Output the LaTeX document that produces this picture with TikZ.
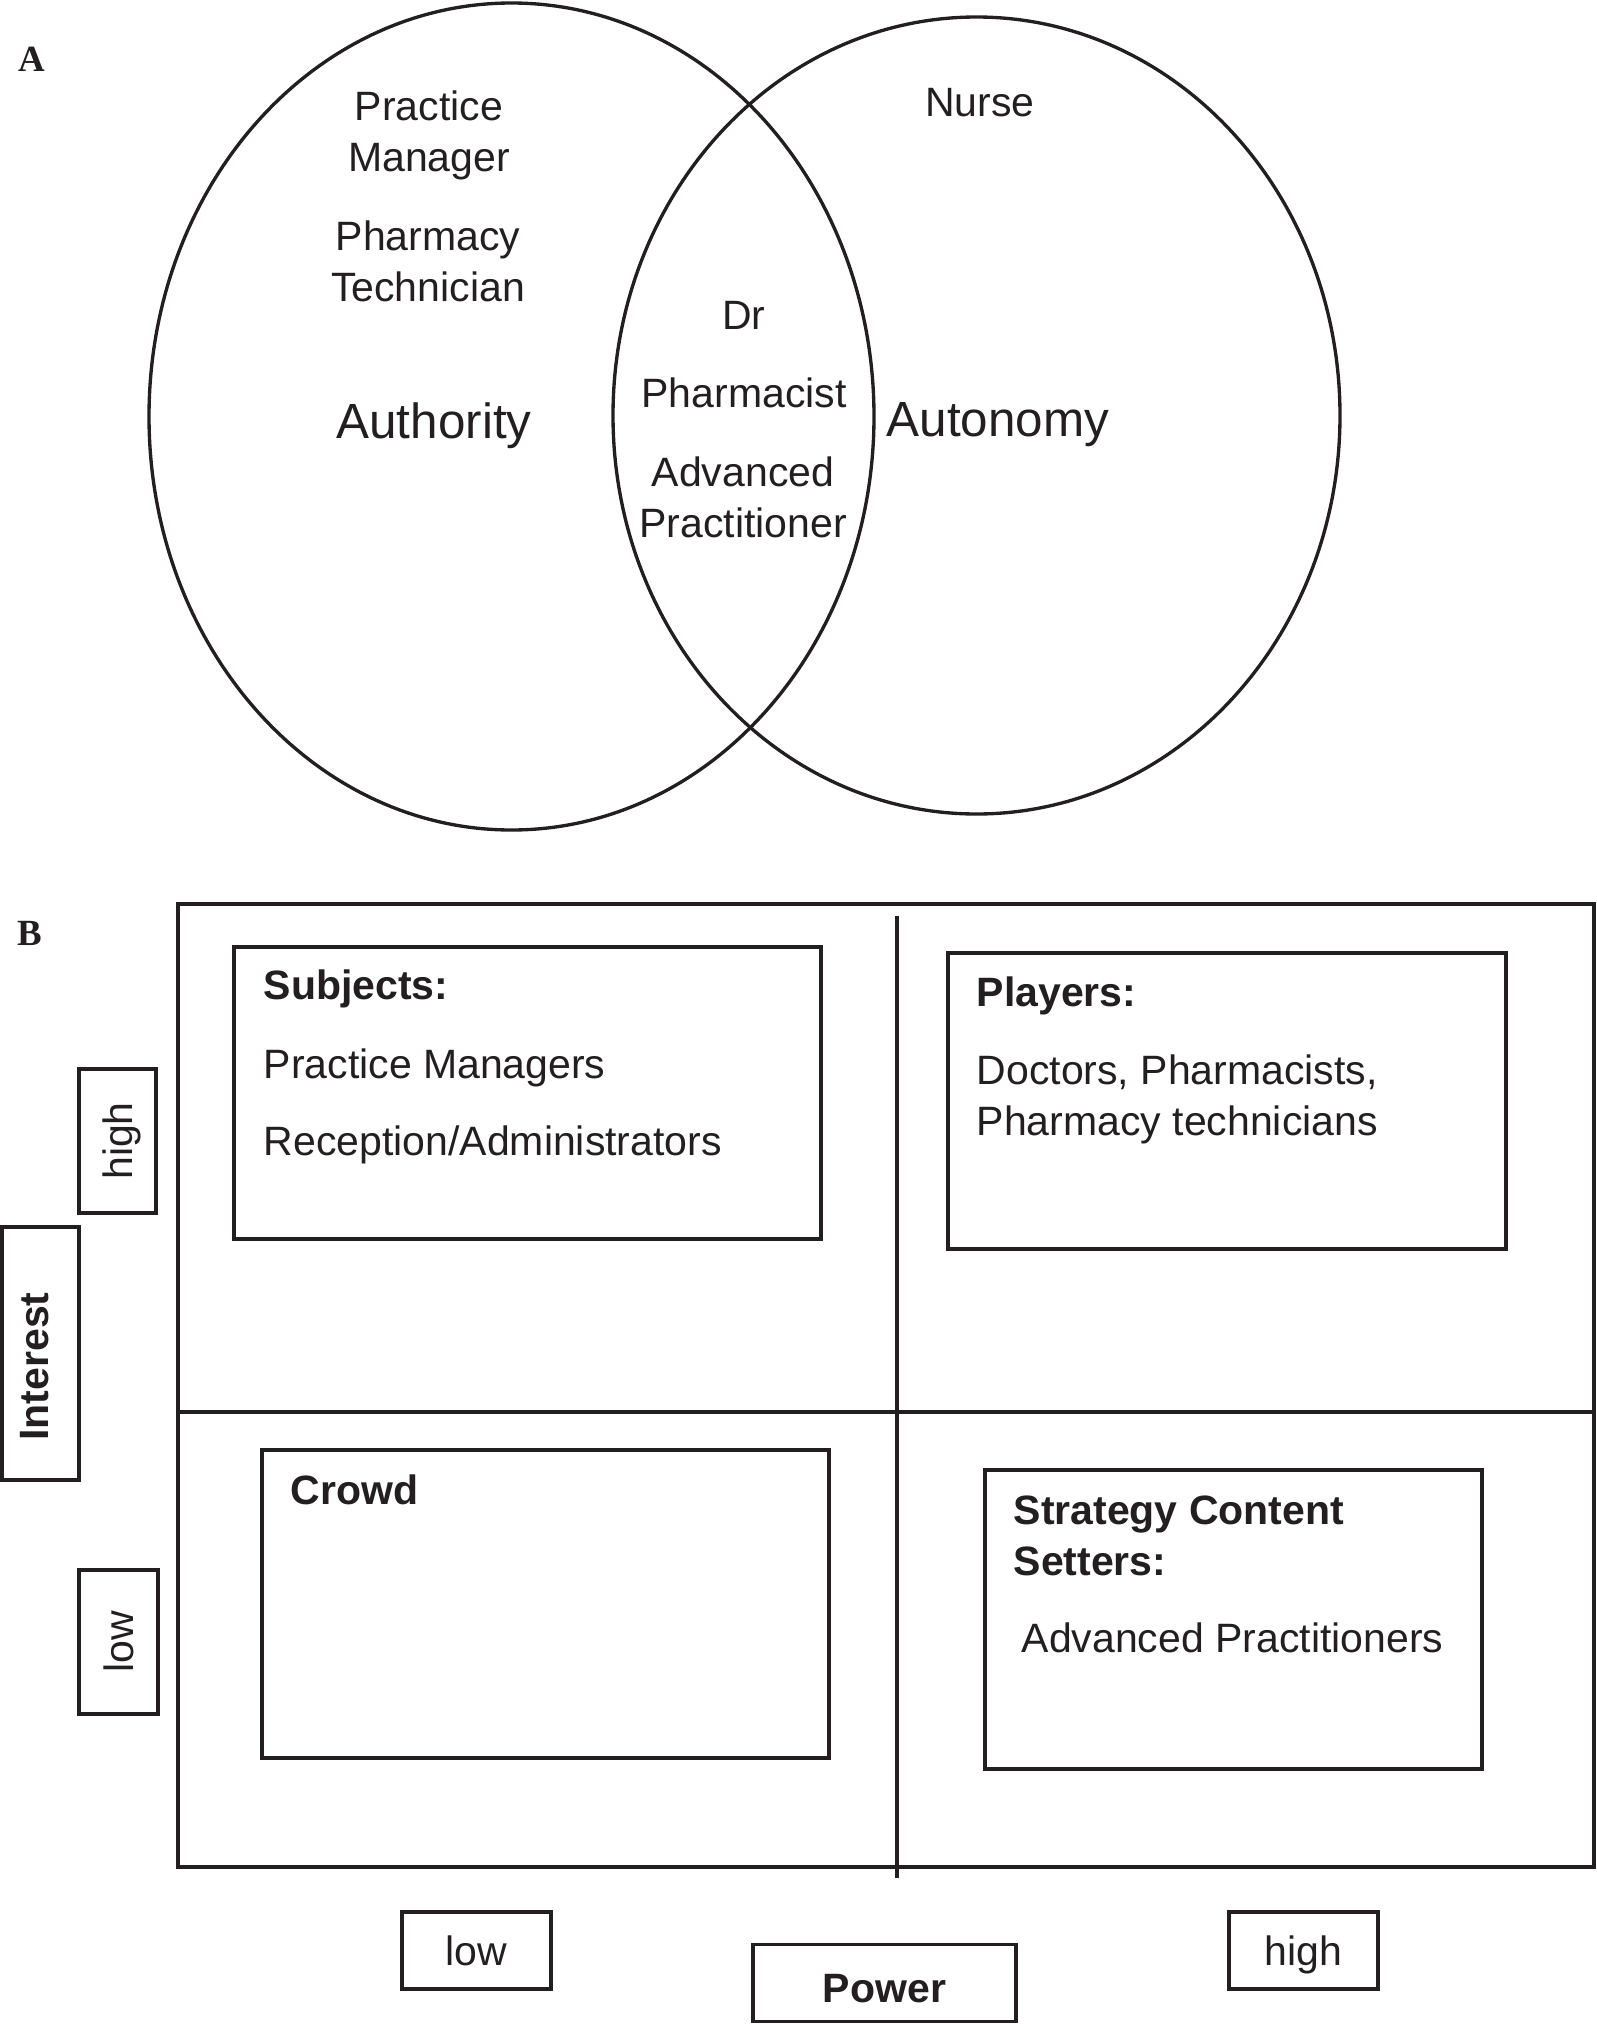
\documentclass[tikz,border=0pt]{standalone}
\usepackage{fontspec}
\setmainfont{Liberation Sans}
\newfontfamily\panelfont{Liberation Serif}
\usepackage{tikz}
\usetikzlibrary{positioning}

\definecolor{ink}{HTML}{231F20}
\newcommand{\txtsize}{\fontsize{11.66}{14.5}\selectfont}
\newcommand{\bigsize}{\fontsize{14.05}{17}\selectfont}

\begin{document}
\begin{tikzpicture}[
            x=0.01cm, y=-0.01cm,
            every node/.style={text=ink},
            ring/.style  ={draw=ink, line width=0.95pt},
            frame/.style ={draw=ink, line width=1pt},
            qbox/.style  ={draw=ink, line width=0.95pt},
            txt/.style   ={font=\txtsize, inner sep=0pt, anchor=base},
            ltxt/.style  ={font=\txtsize, inner sep=0pt, anchor=base west},
            hd/.style    ={font=\txtsize\bfseries, inner sep=0pt, anchor=base west},
            big/.style   ={font=\bigsize, inner sep=0pt, anchor=base},
            panel/.style ={font=\panelfont\bfseries\fontsize{10.5}{12}\selectfont, inner sep=0pt, anchor=base},
            axbox/.style ={draw=ink, line width=0.95pt, font=\txtsize, inner sep=0pt, text depth=0pt}
        ]
        \useasboundingbox (0,0) rectangle (1597,2024);

        %% ---- panel A: authority / autonomy venn -----------------------------
        \node[panel] (lblA) at (31.5,71.5) {A};
        \draw[ring] (511.5,416.5) ellipse [x radius=362.5, y radius=413.5];
        \draw[ring] (976.5,415.5) ellipse [x radius=363.5, y radius=398.5];

        % left only (two-line nodes sit on the base of their last line)
        \node[txt, align=center] (pm) at (429,171) {Practice\\Manager};
        \node[txt, align=center] (pt) at (428,301) {Pharmacy\\Technician};
        \node[big] (auth) at (434,438) {Authority};
        % overlap
        \node[txt] (dr) at (744,329) {Dr};
        \node[txt] (pharm) at (744,407) {Pharmacist};
        \node[txt, align=center] (ap) at (743,537) {Advanced\\Practitioner};
        % right only
        \node[txt] (nurse) at (980,116) {Nurse};
        \node[big] (auto) at (998,436) {Autonomy};

        %% ---- panel B: power / interest grid ----------------------------------
        \node[panel] (lblB) at (30,945) {B};
        \draw[frame] (178,904) rectangle (1594,1867);
        \draw[frame] (178,1412) -- (1594,1412);
        \draw[frame] (897,916) -- (897,1878);

        % quadrant boxes
        \draw[qbox] (234,947) rectangle (821,1239);
        \draw[qbox] (948,953) rectangle (1506,1249);
        \draw[qbox] (262,1450) rectangle (829,1758);
        \draw[qbox] (985,1470) rectangle (1482,1769);

        \node[hd] (subj) at (263,999) {Subjects:};
        \node[ltxt] (subj1) at (263,1078) {Practice Managers};
        \node[ltxt] (subj2) at (263,1155) {Reception/Administrators};

        \node[hd] (play) at (976,1006) {Players:};
        \node[ltxt, align=left] (play1) at (976,1135) {Doctors, Pharmacists,\\Pharmacy technicians};

        \node[hd] (crowd) at (290,1504) {Crowd};

        \node[hd, align=left] (strat) at (1013,1575) {Strategy Content\\Setters:};
        \node[ltxt] (strat1) at (1021,1652) {Advanced Practitioners};

        % axis labels, boxed (text a little off-centre, as printed)
        \node[axbox, rotate=90, minimum width=1.44cm, minimum height=0.77cm] (ihigh) at (117.5,1141) {high};
        \node[axbox, rotate=90, font=\txtsize\bfseries, text depth=0.32em, minimum width=2.53cm, minimum height=0.77cm] (interest) at (40.5,1353.5) {Interest\rule{0.26cm}{0pt}};
        \node[axbox, rotate=90, minimum width=1.44cm, minimum height=0.79cm] (ilow) at (118.5,1642) {low};
        \node[axbox, minimum width=1.49cm, minimum height=0.77cm] (plow) at (476.5,1950.5) {low};
        \node[axbox, font=\txtsize\bfseries, text height=1.1em, minimum width=2.63cm, minimum height=0.77cm] (power) at (884.5,1983) {Power};
        \node[axbox, minimum width=1.49cm, minimum height=0.77cm] (phigh) at (1303.5,1950.5) {high};
    \end{tikzpicture}
\end{document}
